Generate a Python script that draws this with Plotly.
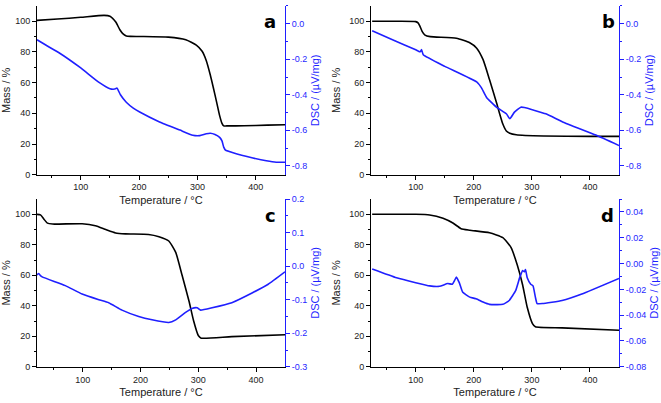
import plotly.graph_objects as go

# ---------------- data ----------------
# Panel a
a_mass_T = [25, 60, 100, 140, 150, 160, 167, 172, 178, 185, 200, 250, 280, 298, 308, 315, 322, 327, 333, 338, 342, 345, 350, 380, 420, 450]
a_mass = [100.6, 101.5, 102.6, 103.9, 103.3, 99.5, 94.5, 92.0, 90.5, 90.2, 90.1, 89.7, 88.0, 84.5, 80.5, 74.5, 65.0, 57.0, 47.0, 38.5, 33.5, 31.8, 31.8, 31.9, 32.3, 32.6]
a_dsc_T = [25, 40, 64, 100, 132, 150, 158, 162, 168, 178, 190, 201, 235, 270, 292, 304, 315, 322, 330, 338, 342, 345, 348, 361, 395, 418, 435, 450]
a_dsc = [-0.09, -0.12, -0.166, -0.249, -0.332, -0.366, -0.368, -0.362, -0.40, -0.442, -0.475, -0.497, -0.553, -0.599, -0.628, -0.630, -0.620, -0.617, -0.624, -0.640, -0.660, -0.695, -0.712, -0.727, -0.756, -0.772, -0.780, -0.780]

# Panel b
b_mass_T = [25, 60, 100, 104, 107, 111, 116, 125, 170, 193, 205, 216, 227, 239, 250, 256, 262, 273, 320, 400, 450]
b_mass = [100, 100, 99.8, 99.0, 97.0, 93.5, 91.0, 90.0, 89.0, 86.0, 82.5, 75.0, 62.0, 47.0, 33.0, 28.5, 27.0, 26.0, 25.2, 25.0, 25.0]
b_dsc_T = [25, 60, 100, 106, 108, 110, 113, 150, 205, 213, 222, 239, 256, 262, 270, 281, 287, 324, 353, 410, 450]
b_dsc = [-0.04, -0.09, -0.147, -0.157, -0.157, -0.145, -0.175, -0.24, -0.328, -0.36, -0.415, -0.47, -0.507, -0.535, -0.498, -0.470, -0.472, -0.507, -0.553, -0.627, -0.686]

# Panel c
c_mass_T = [20, 27, 33, 39, 48, 99, 122, 140, 157, 174, 214, 232, 249, 261, 272, 284, 292, 300, 305, 358, 450]
c_mass = [100, 99.6, 96.8, 94.2, 93.6, 93.8, 92.5, 90.0, 87.8, 87.2, 86.8, 85.3, 82.5, 75.0, 60.0, 43.0, 30.0, 20.5, 18.8, 19.8, 21.0]
c_dsc_T = [20, 24, 27, 30, 70, 99, 128, 145, 168, 197, 220, 249, 261, 278, 289, 298, 304, 324, 358, 393, 421, 450]
c_dsc = [-0.027, -0.022, -0.028, -0.032, -0.058, -0.083, -0.100, -0.109, -0.131, -0.150, -0.160, -0.168, -0.160, -0.138, -0.126, -0.124, -0.131, -0.124, -0.109, -0.080, -0.054, -0.017]

# Panel d
d_mass_T = [25, 100, 124, 147, 164, 178, 193, 227, 250, 264, 275, 284, 292, 301, 306, 352, 450]
d_mass = [100, 100, 99.6, 97.4, 94.3, 90.6, 89.6, 87.9, 84.7, 78.3, 66.6, 53.8, 39.0, 28.3, 26.2, 25.5, 24.0]
d_dsc_T = [25, 67, 100, 124, 141, 155, 163, 167, 170, 175, 181, 193, 204, 216, 227, 250, 261, 272, 279, 284, 287, 289, 292, 298, 302, 306, 309, 318, 352, 386, 450]
d_dsc = [-0.0042, -0.011, -0.0148, -0.0173, -0.0176, -0.0155, -0.016, -0.013, -0.0105, -0.0148, -0.0223, -0.026, -0.0273, -0.0298, -0.0316, -0.0316, -0.0286, -0.021, -0.0109, -0.0054, -0.0064, -0.0047, -0.011, -0.016, -0.0173, -0.026, -0.031, -0.031, -0.0286, -0.0236, -0.0115]

panel_labels = ["a", "b", "c", "d"]
x_ticks = [100, 200, 300, 400]
mass_ticks = [0, 20, 40, 60, 80, 100]
dsc_ticks_a = [0.0, -0.2, -0.4, -0.6, -0.8]
dsc_text_a = ["0.0", "-0.2", "-0.4", "-0.6", "-0.8"]
dsc_ticks_b = [0.0, -0.2, -0.4, -0.6, -0.8]
dsc_text_b = ["0.0", "-0.2", "-0.4", "-0.6", "-0.8"]
dsc_ticks_c = [0.2, 0.1, 0.0, -0.1, -0.2, -0.3]
dsc_text_c = ["0.2", "0.1", "0.0", "-0.1", "-0.2", "-0.3"]
dsc_ticks_d = [0.04, 0.02, 0.00, -0.02, -0.04, -0.06, -0.08]
dsc_text_d = ["0.04", "0.02", "0.00", "-0.02", "-0.04", "-0.06", "-0.08"]

# ---------------- figure ----------------
W, H = 661, 403
BLUE = "#1f1fff"
FONT = "Liberation Sans"

panels = [
    dict(mT=a_mass_T, m=a_mass, dT=a_dsc_T, d=a_dsc, px=(37, 285), py=(1, 174), xr=[25, 450], dr=[-0.85, 0.1], dt=dsc_ticks_a, dtt=dsc_text_a, dminor=0.1, lab=panel_labels[0], labx=270, laby=17),
    dict(mT=b_mass_T, m=b_mass, dT=b_dsc_T, d=b_dsc, px=(371, 619), py=(1, 174), xr=[23, 450], dr=[-0.85, 0.1], dt=dsc_ticks_b, dtt=dsc_text_b, dminor=0.1, lab=panel_labels[1], labx=608, laby=17),
    dict(mT=c_mass_T, m=c_mass, dT=c_dsc_T, d=c_dsc, px=(37, 285), py=(199, 371), xr=[21, 450], dr=[-0.3, 0.2], dt=dsc_ticks_c, dtt=dsc_text_c, dminor=0.05, lab=panel_labels[2], labx=270, laby=216),
    dict(mT=d_mass_T, m=d_mass, dT=d_dsc_T, d=d_dsc, px=(371, 619), py=(199, 371), xr=[23, 450], dr=[-0.08, 0.05], dt=dsc_ticks_d, dtt=dsc_text_d, dminor=0.01, lab=panel_labels[3], labx=607, laby=216),
]

fig = go.Figure()
layout = {}
annotations = []
for i, p in enumerate(panels):
    n = i + 1
    xa = "x" if n == 1 else f"x{n}"
    ya_l = f"y{2*n-1}" if n > 1 else "y"
    ya_r = f"y{2*n}"
    xname = "xaxis" if n == 1 else f"xaxis{n}"
    yl_name = "yaxis" if ya_l == "y" else f"yaxis{2*n-1}"
    yr_name = f"yaxis{2*n}"

    fig.add_trace(go.Scatter(x=p["mT"], y=p["m"], mode="lines", xaxis=xa, yaxis=ya_l,
                             line=dict(color="black", width=1.6, shape="spline", smoothing=0.5),
                             showlegend=False))
    fig.add_trace(go.Scatter(x=p["dT"], y=p["d"], mode="lines", xaxis=xa, yaxis=ya_r,
                             line=dict(color=BLUE, width=1.6, shape="spline", smoothing=0.4),
                             showlegend=False))

    xd = [p["px"][0] / W, p["px"][1] / W]
    yd = [1 - p["py"][1] / H, 1 - p["py"][0] / H]

    layout[xname] = dict(domain=xd, range=p["xr"], anchor=ya_l, showline=True, linecolor="black",
                         linewidth=1, ticks="outside", ticklen=4, tickcolor="black",
                         tickvals=x_ticks, showgrid=False, zeroline=False,
                         tickfont=dict(family=FONT, size=9, color="#222"),
                         minor=dict(ticks="outside", ticklen=2, tickcolor="black", tickvals=[50, 150, 250, 350]),
                         title=dict(text="Temperature / °C", font=dict(family=FONT, size=11, color="#222"), standoff=4))
    layout[yl_name] = dict(domain=yd, range=[0, 110], anchor=xa, showline=True, linecolor="black",
                           linewidth=1, ticks="outside", ticklen=4, tickcolor="black",
                           tickvals=mass_ticks, showgrid=False, zeroline=False,
                           tickfont=dict(family=FONT, size=9, color="#222"),
                           minor=dict(ticks="outside", ticklen=2, tickcolor="black", tickvals=[10, 30, 50, 70, 90]),
                           title=dict(text="Mass / %", font=dict(family=FONT, size=11, color="#222"), standoff=6))
    layout[yr_name] = dict(domain=yd, range=p["dr"], anchor=xa, overlaying=ya_l, side="right",
                           showline=True, linecolor=BLUE, linewidth=1, ticks="outside", ticklen=4,
                           tickcolor=BLUE, tickvals=p["dt"], ticktext=p["dtt"], showgrid=False,
                           zeroline=False, tickfont=dict(family=FONT, size=9, color=BLUE),
                           minor=dict(ticks="outside", ticklen=2, tickcolor=BLUE, dtick=p["dminor"]),
                           title=dict(text="DSC / (µV/mg)", font=dict(family=FONT, size=11, color=BLUE), standoff=4))
    annotations.append(dict(text=f"<b>{p['lab']}</b>", x=p["labx"] / W, y=1 - p["laby"] / H,
                            xref="paper", yref="paper", yanchor="middle", xanchor="center",
                            showarrow=False, font=dict(family="DejaVu Sans", size=18, color="black")))

fig.update_layout(width=W, height=H, margin=dict(l=0, r=0, t=0, b=0),
                  paper_bgcolor="white", plot_bgcolor="white", annotations=annotations, **layout)
fig.write_html("out.html", config={"displayModeBar": False},
               post_script="document.body.style.margin='0';document.body.style.padding='0';")
